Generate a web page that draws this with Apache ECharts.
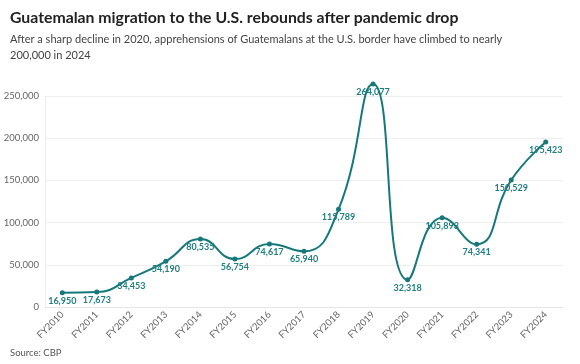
<!DOCTYPE html>
<html>
<head>
<meta charset="utf-8">
<script src="https://cdn.jsdelivr.net/npm/echarts@6/dist/echarts.min.js"></script>
<style>
html,body{margin:0;padding:0;background:#fff;}
#chart{width:580px;height:364px;}
</style>
</head>
<body>
<div id="chart"></div>
<script>
const categories = ["FY2010","FY2011","FY2012","FY2013","FY2014","FY2015","FY2016","FY2017","FY2018","FY2019","FY2020","FY2021","FY2022","FY2023","FY2024"];
const apprehensions = [16950, 17673, 34453, 54190, 80535, 56754, 74617, 65940, 115789, 264077, 32318, 105893, 74341, 150529, 195423];
const yTicks = [0, 50000, 100000, 150000, 200000, 250000];

const FONT = "Lato, 'Noto Sans', sans-serif";
const TEAL = "#16787a";
const chart = echarts.init(document.getElementById('chart'), null, {renderer: 'canvas'});
chart.setOption({
  backgroundColor: '#fff',
  animation: false,
  title: [
    {
      text: 'Guatemalan migration to the U.S. rebounds after pandemic drop',
      left: 5, top: 5,
      textStyle: {fontFamily: FONT, fontSize: 15.8, fontWeight: 'bold', color: '#222'}
    },
    {
      text: 'After a sharp decline in 2020, apprehensions of Guatemalans at the U.S. border have climbed to nearly\n200,000 in 2024',
      left: 5, top: 26,
      textStyle: {fontFamily: FONT, fontSize: 11, fontWeight: 'normal', color: '#444', lineHeight: 16}
    },
    {
      text: 'Source: CBP',
      left: 5, top: 343,
      textStyle: {fontFamily: FONT, fontSize: 9.5, fontWeight: 'normal', color: '#555'}
    }
  ],
  grid: {left: 45, right: 17, top: 96, bottom: 57, containLabel: false},
  xAxis: {
    type: 'category',
    data: categories,
    boundaryGap: true,
    axisLine: {show: true, lineStyle: {color: '#e6e6e6'}},
    axisTick: {show: false},
    axisLabel: {rotate: 45, fontFamily: FONT, fontSize: 9.5, color: '#666', margin: 6, interval: 0}
  },
  yAxis: {
    type: 'value',
    min: yTicks[0],
    max: yTicks[yTicks.length - 1],
    interval: 50000,
    axisLine: {show: true, lineStyle: {color: '#f0f0f0'}},
    axisTick: {show: false},
    splitLine: {lineStyle: {color: '#efefef'}},
    axisLabel: {
      fontFamily: FONT, fontSize: 9.5, color: '#666', margin: 6,
      formatter: v => v.toLocaleString('en-US')
    }
  },
  series: [{
    type: 'line',
    data: apprehensions,
    smooth: 0.5,
    clip: false,
    symbol: 'circle',
    symbolSize: 5,
    lineStyle: {color: TEAL, width: 2},
    itemStyle: {color: TEAL},
    label: {
      show: true,
      position: 'bottom',
      distance: 1,
      fontFamily: FONT,
      fontSize: 9,
      fontWeight: 'bold',
      color: '#1f7f80',
      formatter: p => p.value.toLocaleString('en-US')
    }
  }]
});
</script>
</body>
</html>
